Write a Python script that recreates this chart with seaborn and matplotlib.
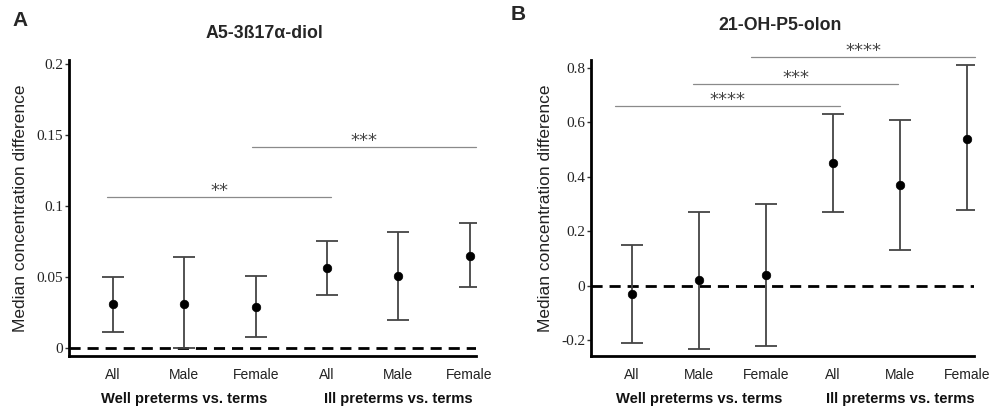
import numpy as np
import pandas as pd
import seaborn as sns
import matplotlib
matplotlib.use("Agg")
import matplotlib.pyplot as plt
import matplotlib.ticker as mtick
import matplotlib.transforms as mtrans

# Chart data
categories = ["All", "Male", "Female", "All", "Male", "Female"]
groups = ["Well preterms vs. terms", "Ill preterms vs. terms"]

a_title = "A5-3ß17α-diol"
a_median = [0.031, 0.031, 0.029, 0.056, 0.051, 0.065]
a_low = [0.011, 0.000, 0.008, 0.037, 0.020, 0.043]
a_high = [0.050, 0.064, 0.051, 0.075, 0.082, 0.088]
a_ticks = [0, 0.05, 0.1, 0.15, 0.2]
a_brackets = [(0.92, 4.06, 0.106, "**"), (2.95, 6.09, 0.1415, "***")]

b_title = "21-OH-P5-olon"
b_median = [-0.03, 0.02, 0.04, 0.45, 0.37, 0.54]
b_low = [-0.21, -0.23, -0.22, 0.27, 0.13, 0.28]
b_high = [0.15, 0.27, 0.30, 0.63, 0.61, 0.81]
b_ticks = [-0.2, 0, 0.2, 0.4, 0.6, 0.8]
b_brackets = [(0.75, 4.10, 0.66, "****"), (1.91, 4.97, 0.74, "***"),
              (2.78, 6.12, 0.84, "****")]

sns.set_theme(style="white")
plt.rcParams['font.family'] = ['Liberation Sans', 'DejaVu Sans']

fig = plt.figure(figsize=(9.99, 4.08), dpi=100)
ax_a = fig.add_axes([0.069, 0.1275, 0.4075, 0.7255])
ax_b = fig.add_axes([0.5916, 0.1275, 0.3834, 0.7255])


def draw_panel(ax, median, low, high, ticks, ylim, xlim, brackets):
    x = np.arange(1, len(categories) + 1)
    df = pd.DataFrame({"x": x, "median": median, "low": low, "high": high})

    ax.axhline(0, color="black", lw=2, ls=(0, (4, 2.5)), zorder=1)
    ax.errorbar(df["x"], df["median"],
                yerr=[df["median"] - df["low"], df["high"] - df["median"]],
                fmt="none", ecolor="#444444", elinewidth=1.3, capsize=8,
                capthick=1.3, zorder=2)
    sns.scatterplot(data=df, x="x", y="median", ax=ax, color="black",
                    s=38, edgecolor="black", zorder=3, legend=False)

    # significance brackets
    for x1, x2, y, label in brackets:
        ax.plot([x1, x2], [y, y], color="#8a8a8a", lw=0.9, clip_on=False)
        ax.annotate(label, xy=((x1 + x2) / 2, y), xytext=(0, 1),
                    textcoords="offset points", ha="center", va="baseline",
                    fontsize=13, color="#444444", family="DejaVu Sans",
                    annotation_clip=False)

    ax.set_xlim(*xlim)
    ax.set_ylim(*ylim)
    ax.set_xticks(x)
    ax.set_xticklabels(categories, fontsize=10, color="#222222")
    ax.set_yticks(ticks)
    ax.yaxis.set_major_formatter(mtick.FuncFormatter(lambda v, p: "%g" % v))
    for lab in ax.get_yticklabels():
        lab.set_fontfamily("Liberation Serif")
        lab.set_fontsize(11)
        lab.set_color("#222222")
    ax.tick_params(axis="x", length=0, pad=9)
    ax.tick_params(axis="y", length=3, width=1, color="#333333", pad=1,
                   left=True)
    ax.set_xlabel("")
    ax.set_ylabel("Median concentration difference", fontsize=12.5,
                  color="#222222", labelpad=6)
    for side in ["top", "right"]:
        ax.spines[side].set_visible(False)
    for side in ["left", "bottom"]:
        ax.spines[side].set_linewidth(2)
        ax.spines[side].set_color("black")

    trans = mtrans.blended_transform_factory(ax.transData, ax.transAxes)
    ax.text(2, -0.145, groups[0], transform=trans, ha="center", va="center",
            fontsize=10.6, fontweight="bold", color="#111111")
    ax.text(5, -0.145, groups[1], transform=trans, ha="center", va="center",
            fontsize=10.6, fontweight="bold", color="#111111")


draw_panel(ax_a, a_median, a_low, a_high, a_ticks, (-0.0056, 0.2028),
           (0.38, 6.09), a_brackets)
draw_panel(ax_b, b_median, b_low, b_high, b_ticks, (-0.257, 0.829),
           (0.39, 6.1), b_brackets)

fig.text(0.265, 1 - 33 / 408, a_title, ha="center", va="center",
         fontsize=12.8, fontweight="bold")
fig.text(0.781, 1 - 25 / 408, b_title, ha="center", va="center",
         fontsize=12.8, fontweight="bold")
fig.text(0.02, 1 - 20 / 408, "A", ha="center", va="center",
         fontsize=15, fontweight="bold")
fig.text(0.519, 1 - 15 / 408, "B", ha="center", va="center",
         fontsize=15, fontweight="bold")

fig.savefig("out.png", dpi=100)
